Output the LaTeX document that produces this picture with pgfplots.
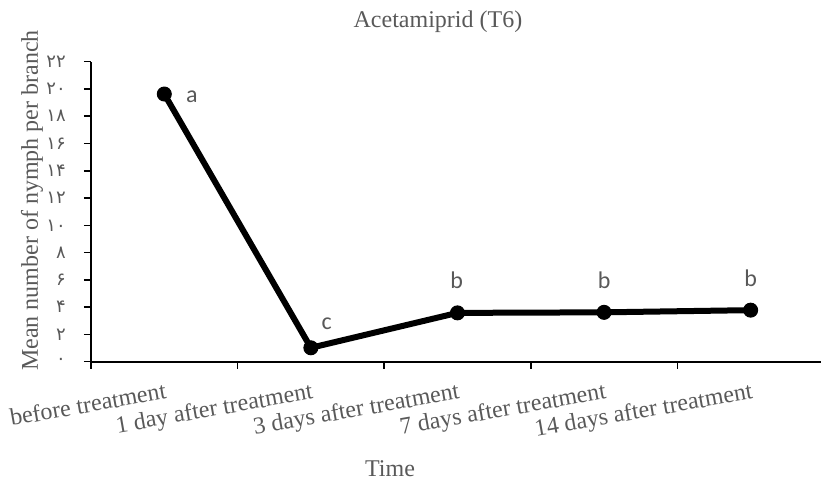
\documentclass[border=0pt]{standalone}
\usepackage{pgfplots}
\pgfplotsset{compat=1.18}
\usepackage{pgfplotstable}
\usepackage{fontspec}
\setmainfont{Liberation Serif}
\newfontfamily\calibri{Carlito}
\newfontfamily\arabicfont[Script=Arabic]{DejaVu Sans}
\definecolor{txt}{HTML}{595959}

% mean nymphs per branch
\pgfplotstableread{
x y
0 19.63
1 1.02
2 3.58
3 3.62
4 3.78
}\nymph

% letters of the mean comparison, with their offsets in bp
\pgfplotstableread{
x y lab dx dy
0 19.63 a 27.7 -3.2
1 1.02 c 15.7 24.4
2 3.58 b -0.8 32.4
3 3.62 b 0 32.4
4 3.78 b 0 32.4
}\letters

\begin{document}
\begin{tikzpicture}
\path[use as bounding box] (0,0) rectangle (821bp,483bp);
\begin{axis}[
    at={(91bp,121.3bp)}, anchor=south west,
    scale only axis, width=730bp, height=300bp,
    xmin=-0.5, xmax=4.48, ymin=0, ymax=22,
    clip=false,
    axis lines*=left,
    axis line style={line width=2bp, black},
    tick align=outside,
    major tick length=7bp, minor tick length=7bp,
    xtick={0,1,2,3,4},
    xticklabels={before treatment, 1 day after treatment, 3 days after treatment, 7 days after treatment, 14 days after treatment},
    minor xtick={-0.5,0.5,1.5,2.5,3.5},
    major x tick style={draw=none},
    minor x tick style={line width=1.5bp, black},
    ytick={0,2,...,22},
    yticklabels={۰,۲,۴,۶,۸,۱۰,۱۲,۱۴,۱۶,۱۸,۲۰,۲۲},
    major y tick style={line width=1.5bp, black},
    xticklabel style={font=\fontsize{24bp}{28bp}\selectfont, text=txt, rotate=10, anchor=north east, inner sep=0pt},
    xticklabel shift=13bp,
    yticklabel style={font=\arabicfont\fontsize{18bp}{20bp}\selectfont, text=txt, anchor=east, inner sep=0pt},
    yticklabel shift=18bp,
    title={Acetamiprid (T6)},
    title style={at={(axis description cs:0.4753,1.0957)}, anchor=base, font=\fontsize{24bp}{28bp}\selectfont, text=txt},
    xlabel={Time},
    xlabel style={at={(axis description cs:0.4096,-0.3833)}, anchor=base, font=\fontsize{24bp}{28bp}\selectfont, text=txt},
    ylabel={Mean number of nymph per branch},
    ylabel style={at={(axis description cs:-0.0726,0.537)}, anchor=base, font=\fontsize{24bp}{28bp}\selectfont, text=txt},
]
\addplot[black, line width=6bp, mark=*, mark size=7bp, mark options={line width=1bp, fill=black}] table {\nymph};
\addplot[draw=none, mark=none, nodes near coords, point meta=explicit symbolic,
    visualization depends on={\thisrow{dx} \as \dx},
    visualization depends on={\thisrow{dy} \as \dy},
    nodes near coords style={anchor=center, xshift=\dx bp, yshift=\dy bp, font=\calibri\fontsize{24bp}{28bp}\selectfont, text=txt}]
    table[meta=lab] {\letters};
\end{axis}
\end{tikzpicture}
\end{document}
